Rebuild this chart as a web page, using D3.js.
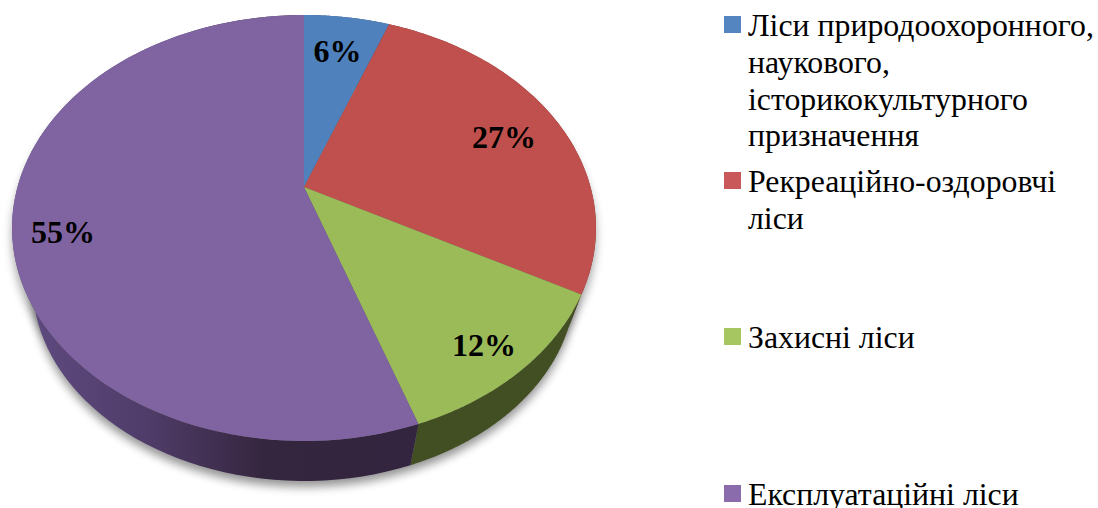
<!DOCTYPE html>
<html>
<head>
<meta charset="utf-8">
<script src="https://cdn.jsdelivr.net/npm/d3@7"></script>
<style>
  html, body { margin: 0; padding: 0; background: #fff; overflow: hidden; }
  text { font-family: "Liberation Serif", serif; fill: #000; }
</style>
</head>
<body>
<div id="chart"></div>
<script>
const categories = ["Ліси природоохоронного, наукового, історикокультурного призначення",
  "Рекреаційно-оздоровчі ліси", "Захисні ліси", "Експлуатаційні ліси"];
const shares = [5.7, 27.2, 11.8, 55.3];
const legendLines = [
  ["Ліси природоохоронного,", "наукового,", "історикокультурного", "призначення"],
  ["Рекреаційно-оздоровчі", "ліси"],
  ["Захисні ліси"],
  ["Експлуатаційні ліси"]
];
const colors = ["#4f81bd", "#c0504d", "#9bbb59", "#8064a2"];
const wallColors = ["#2c4a6e", "#6f2e2c", "#414f22", "#3c2c50"];
const legendColors = ["#5585c0", "#c9585a", "#a6c661", "#8a6cad"];

const width = 1098, height = 508;
const apex = {x: 304, y: 187};
const radiusX = 286.5, radiusY = 205.1, tilt = 0.1925;
const wallScale = 0.93, wallDrop = 57.8;

// tilted disc with perspective, angle + fraction of radius -> screen position
function project(angle, r, lower) {
  const x = Math.sin(angle) * r, y = -Math.cos(angle) * r;
  const w = 1 - tilt * y;
  const s = lower ? wallScale : 1;
  return [apex.x + s * radiusX * x / w, apex.y + s * radiusY * y / w + (lower ? wallDrop : 0)];
}

function arcPoints(start, end, lower) {
  return d3.range(0, 1.0001, 1 / 90).map(t => project(start + (end - start) * t, 1, lower));
}

const svg = d3.select("#chart").append("svg")
  .attr("width", width)
  .attr("height", height)
  .style("display", "block");

const defs = svg.append("defs");
defs.append("filter").attr("id", "blur")
  .attr("x", "-10%").attr("y", "-10%").attr("width", "120%").attr("height", "120%")
  .append("feGaussianBlur").attr("stdDeviation", 5);

const wallGrad = defs.append("linearGradient").attr("id", "wallPurple")
  .attr("gradientUnits", "userSpaceOnUse")
  .attr("x1", 30).attr("x2", 420).attr("y1", 0).attr("y2", 0);
wallGrad.selectAll("stop")
  .data([[0, "#5f4a80"], [0.3, "#503c69"], [0.6, "#35263f"], [1, "#33243f"]])
  .enter().append("stop")
  .attr("offset", d => d[0])
  .attr("stop-color", d => d[1]);

const pie = d3.pie().sort(null).value(d => d);
const slices = pie(shares);
const line = d3.line();

// soft shadow under the pie
const fullTurn = 2 * Math.PI;
svg.append("path")
  .attr("d", line(arcPoints(0, fullTurn, true)) + "Z")
  .attr("transform", "translate(0,6)")
  .attr("fill", "#000")
  .attr("opacity", 0.42)
  .attr("filter", "url(#blur)");
svg.append("path")
  .attr("d", line(arcPoints(0, fullTurn, false)) + "Z")
  .attr("transform", "translate(0,9)")
  .attr("fill", "#000")
  .attr("opacity", 0.35)
  .attr("filter", "url(#blur)");

// side wall
svg.selectAll(".wall")
  .data(slices)
  .enter().append("path")
  .attr("class", "wall")
  .attr("d", d => line(arcPoints(d.startAngle, d.endAngle, false)
    .concat(arcPoints(d.startAngle, d.endAngle, true).reverse())) + "Z")
  .attr("fill", (d, i) => i === 3 ? "url(#wallPurple)" : wallColors[i]);

// top surface
svg.selectAll(".slice")
  .data(slices)
  .enter().append("path")
  .attr("class", "slice")
  .attr("d", d => line([[apex.x, apex.y]].concat(arcPoints(d.startAngle, d.endAngle, false))) + "Z")
  .attr("fill", (d, i) => colors[i]);

// percent labels
const labelRadius = [0.75, 0.785, 0.85, 0.83];
const labelDrop = [-3, 4, 7, 16];
svg.selectAll(".pct")
  .data(slices)
  .enter().append("text")
  .attr("class", "pct")
  .attr("x", (d, i) => project((d.startAngle + d.endAngle) / 2, labelRadius[i], false)[0])
  .attr("y", (d, i) => project((d.startAngle + d.endAngle) / 2, labelRadius[i], false)[1] + labelDrop[i])
  .attr("dy", "0.33em")
  .attr("text-anchor", "middle")
  .attr("font-size", 32)
  .attr("font-weight", "bold")
  .text(d => Math.round(d.data) + "%");

// legend
const legendTop = [16, 172, 328, 485];
const legend = svg.selectAll(".legend")
  .data(categories)
  .enter().append("g")
  .attr("class", "legend")
  .attr("transform", (d, i) => "translate(724," + legendTop[i] + ")");
legend.append("rect")
  .attr("width", 17)
  .attr("height", 17)
  .attr("fill", (d, i) => legendColors[i]);
legend.each(function (d, i) {
  d3.select(this).selectAll("text")
    .data(legendLines[i])
    .enter().append("text")
    .attr("x", 24)
    .attr("y", (t, j) => 20 + j * 36.8)
    .attr("font-size", 31.8)
    .text(t => t);
});
</script>
</body>
</html>
